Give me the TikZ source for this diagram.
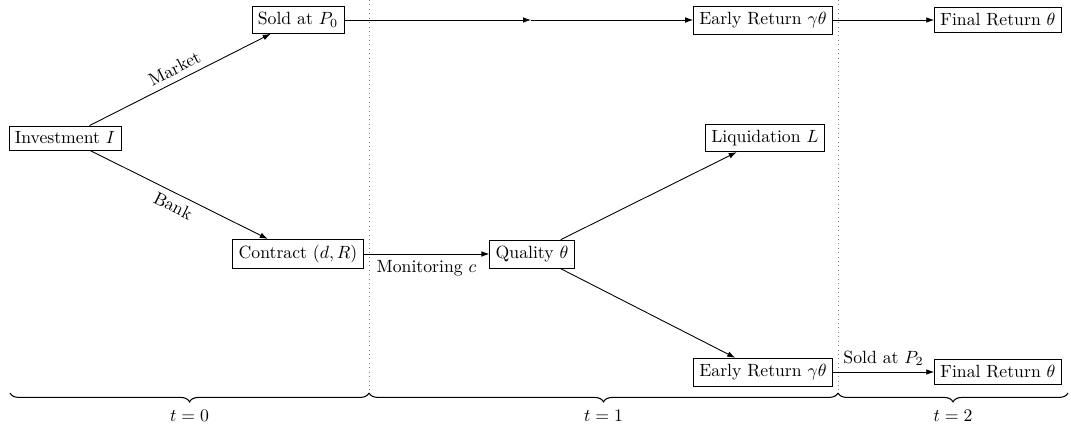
\documentclass[tikz,border=0pt]{standalone}
\usetikzlibrary{decorations.pathreplacing,arrows.meta}
\begin{document}
\begin{tikzpicture}[x=0.565pt,y=-0.565pt,
  box/.style={draw,rectangle,inner sep=3.33pt},
  arr/.style={-{Latex[length=4.5pt,width=3.2pt]},line width=0.5pt},
  sep/.style={dotted,gray,line width=0.5pt},
  brc/.style={decorate,decoration={brace,mirror,amplitude=5pt},line width=0.6pt}]
\useasboundingbox (0,0) rectangle (1071,425);
% separators
\draw[sep] (369,0) coordinate (s1top) -- (369,392) coordinate (s1bot);
\draw[sep] (838,0) coordinate (s2top) -- (838,392) coordinate (s2bot);
% nodes
\node[box] (inv) at (65,138) {Investment $I$};
\node[box] (sold0) at (298,20) {Sold at $P_0$};
\node[box] (contract) at (298,254) {Contract $(d,R)$};
\node[box] (quality) at (532,254) {Quality $\theta$};
\node[box] (liq) at (765,138) {Liquidation $L$};
\node[box] (early1) at (763,20) {Early Return $\gamma\theta$};
\node[box] (final1) at (998,20) {Final Return $\theta$};
\node[box] (early2) at (763,372) {Early Return $\gamma\theta$};
\node[box] (final2) at (998,372) {Final Return $\theta$};
\coordinate (mid) at (531,20);
% connectors
\draw[arr] (inv) -- node[sloped,above] {Market} (sold0);
\draw[arr] (inv) -- node[sloped,below] {Bank} (contract);
\draw[arr] (sold0) -- (mid);
\draw[arr] (mid) -- (early1);
\draw[arr] (early1) -- (final1);
\draw[arr] (contract) -- node[below] {Monitoring $c$} (quality);
\draw[arr] (quality) -- (liq);
\draw[arr] (quality) -- (early2);
\draw[arr] (early2) -- node[above] {Sold at $P_2$} (final2);
% braces
\coordinate (b0) at (10,393);
\coordinate (b1) at (369,393);
\coordinate (b2) at (838,393);
\coordinate (b3) at (1068,393);
\draw[brc] (b0) -- node[below=6pt] {$t=0$} (b1);
\draw[brc] (b1) -- node[below=6pt] {$t=1$} (b2);
\draw[brc] (b2) -- node[below=6pt] {$t=2$} (b3);
\end{tikzpicture}
\end{document}
